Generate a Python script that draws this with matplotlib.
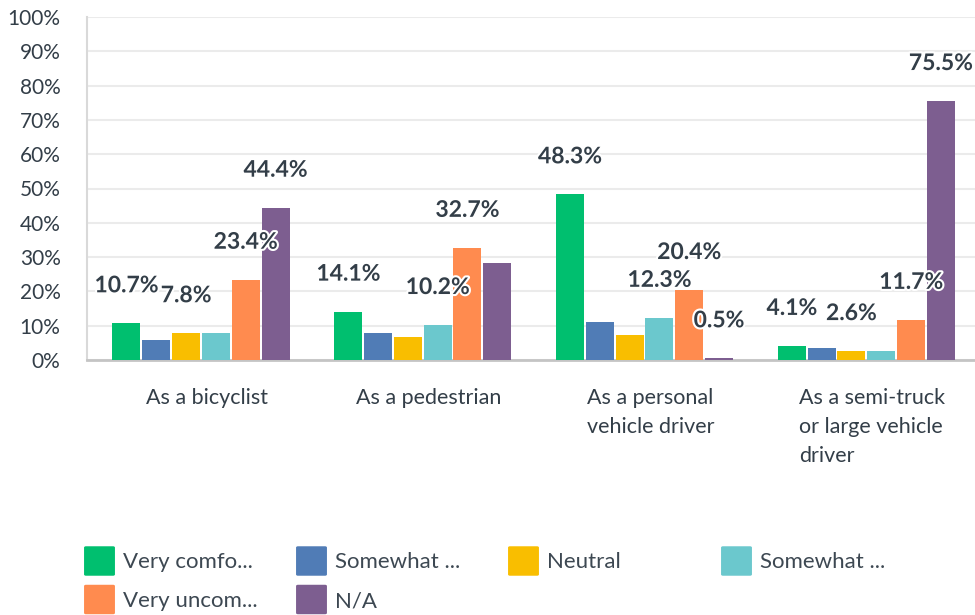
import numpy as np
import matplotlib.pyplot as plt
import matplotlib.patheffects as pe
from matplotlib.patches import FancyBboxPatch
from matplotlib.transforms import ScaledTranslation

categories = ['As a bicyclist', 'As a pedestrian', 'As a personal\nvehicle driver',
              'As a semi-truck\nor large vehicle\ndriver']
series = ['Very comfo...', 'Somewhat ...', 'Neutral', 'Somewhat ...', 'Very uncom...', 'N/A']
very_comfortable = [10.7, 14.1, 48.3, 4.1]
somewhat_comfortable = [5.8, 7.8, 11.2, 3.5]
neutral = [7.8, 6.7, 7.3, 2.6]
somewhat_uncomfortable = [7.8, 10.2, 12.3, 2.6]
very_uncomfortable = [23.4, 32.7, 20.4, 11.7]
not_applicable = [44.4, 28.4, 0.5, 75.5]
# which bars get a visible value label in each group
shown_labels = [[0, 2, 4, 5], [0, 3, 4], [0, 3, 4, 5], [0, 2, 4, 5]]
colors = ['#00bf6f', '#507cb6', '#f9be00', '#6bc8cd', '#ff8b4f', '#7d5e90']

values = [very_comfortable, somewhat_comfortable, neutral,
          somewhat_uncomfortable, very_uncomfortable, not_applicable]

txt = '#333e48'
plt.rcParams['font.family'] = ['Lato', 'DejaVu Sans']

fig = plt.figure(figsize=(9.75, 6.15), dpi=100)
ax = fig.add_axes([87 / 975, 255 / 615, 888 / 975, 343 / 615])

x = np.arange(len(categories))
slot = 0.1344
width = 0.1262
for i, vals in enumerate(values):
    pos = x + (i - 2.5) * slot
    ax.bar(pos, vals, width=width, color=colors[i], zorder=3)
    for g in range(len(categories)):
        if i in shown_labels[g]:
            ax.annotate(f'{vals[g]}%', (pos[g], vals[g]), xytext=(0, 27),
                        textcoords='offset points', ha='center', va='center',
                        fontsize=16.5, fontweight='bold', color=txt, zorder=5,
                        path_effects=[pe.withStroke(linewidth=3, foreground='white')])

ax.set_xlim(-0.514, 3.49)
ax.set_ylim(0, 100)
ax.set_yticks(range(0, 101, 10))
ax.set_yticklabels([f'{v}%' for v in range(0, 101, 10)], fontsize=15, color=txt)
ax.yaxis.grid(True, color='#ebebeb', lw=1.5, zorder=0)
ax.set_axisbelow(True)
ax.tick_params(axis='y', length=0, pad=19)
ax.set_xticks(x)
ax.set_xticklabels(categories, fontsize=15.5, color=txt, multialignment='left',
                   linespacing=1.58)
ax.tick_params(axis='x', length=0, pad=20)
shift = ScaledTranslation(6 / 100, 0, fig.dpi_scale_trans)
for lab in ax.get_xticklabels():
    lab.set_transform(lab.get_transform() + shift)

for s in ['top', 'right']:
    ax.spines[s].set_visible(False)
ax.spines['left'].set_color('#d9d9d9')
ax.spines['left'].set_linewidth(1.5)
ax.spines['bottom'].set_color('#c4c4c4')
ax.spines['bottom'].set_linewidth(2)

# legend drawn by hand to match the 4-column grid
col_x = [85, 297, 509, 722]
row_y = [561, 599.5]
for i, name in enumerate(series):
    px = col_x[i % 4]
    py = row_y[i // 4]
    box = FancyBboxPatch(((px + 1) / 975, 1 - (py + 13.5) / 615), 27 / 975, 27 / 615,
                         boxstyle='round,pad=0.002', transform=fig.transFigure,
                         facecolor=colors[i], edgecolor='none')
    fig.patches.append(box)
    fig.text((px + 38) / 975, 1 - (py + 1.5) / 615, name, fontsize=16, color='#3d4852',
             va='center', ha='left')

fig.savefig('out.png', dpi=100)
